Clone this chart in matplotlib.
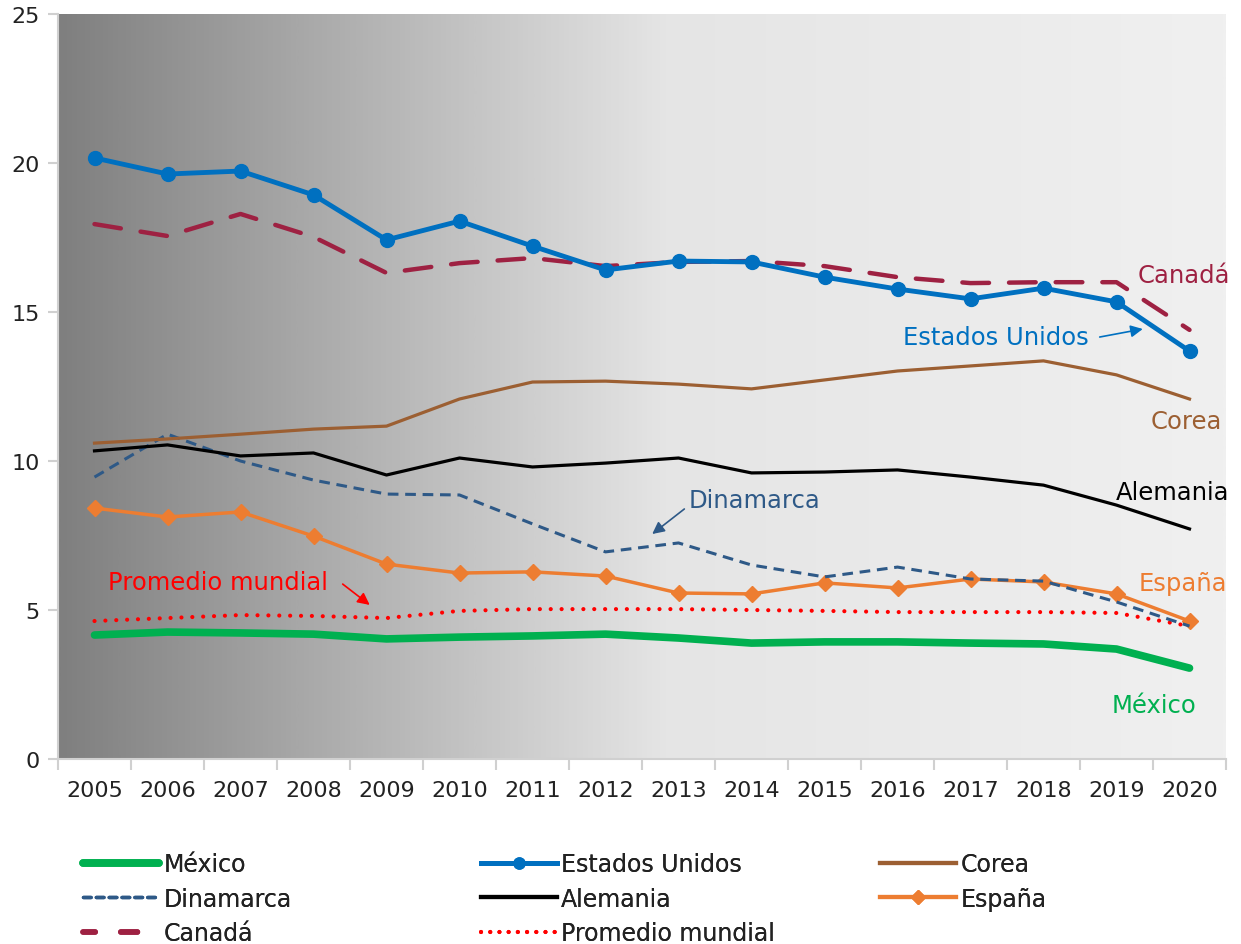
import numpy as np
import matplotlib
matplotlib.use("Agg")
import matplotlib.pyplot as plt
from matplotlib.colors import LinearSegmentedColormap
from matplotlib.lines import Line2D

plt.rcParams['font.family'] = ['DejaVu Sans']

years = [str(y) for y in range(2005, 2021)]
mexico = [4.16, 4.26, 4.23, 4.19, 4.03, 4.09, 4.13, 4.19, 4.06, 3.89, 3.93, 3.93, 3.89, 3.86, 3.69, 3.05]
eeuu = [20.17, 19.63, 19.73, 18.93, 17.42, 18.05, 17.21, 16.41, 16.71, 16.68, 16.17, 15.77, 15.44, 15.80, 15.34, 13.69]
corea = [10.60, 10.74, 10.90, 11.07, 11.17, 12.08, 12.65, 12.68, 12.58, 12.42, 12.72, 13.02, 13.19, 13.36, 12.89, 12.08]
dinamarca = [9.46, 10.90, 10.00, 9.36, 8.89, 8.86, 7.89, 6.95, 7.25, 6.51, 6.11, 6.44, 6.04, 5.97, 5.27, 4.46]
alemania = [10.34, 10.54, 10.17, 10.27, 9.53, 10.10, 9.80, 9.93, 10.10, 9.60, 9.63, 9.70, 9.46, 9.19, 8.52, 7.72]
espana = [8.42, 8.12, 8.29, 7.48, 6.54, 6.24, 6.28, 6.14, 5.57, 5.54, 5.91, 5.74, 6.04, 5.94, 5.54, 4.63]
canada = [17.95, 17.55, 18.29, 17.52, 16.31, 16.64, 16.81, 16.54, 16.68, 16.71, 16.54, 16.17, 15.97, 16.00, 16.00, 14.40]
promedio = [4.63, 4.73, 4.83, 4.80, 4.73, 4.97, 5.03, 5.03, 5.03, 5.00, 4.97, 4.93, 4.93, 4.93, 4.90, 4.46]
y_ticks = [0, 5, 10, 15, 20, 25]

C_MEX = '#00b050'
C_US = '#0070c0'
C_KOR = '#9c5f32'
C_DEN = '#2e5987'
C_GER = '#000000'
C_ESP = '#ed7d31'
C_CAN = '#9e2142'
C_AVG = '#ff0000'
C_TXT = '#222222'

W, H = 1241, 945
fig = plt.figure(figsize=(W/100, H/100), dpi=100)
ax = fig.add_axes([58/W, 1 - 760/H, (1226-58)/W, (760-15)/H])

x = np.arange(len(years))

# gradient background
cmap = LinearSegmentedColormap.from_list('bg', [(0, '#7f7f7f'), (0.52, '#e5e5e5'), (1.0, '#f0f0f0')])
grad = np.linspace(0, 1, 512).reshape(1, -1)
ax.imshow(grad, aspect='auto', cmap=cmap, extent=[-0.5, 15.5, 0, 25], zorder=0)

ax.plot(x, mexico, color=C_MEX, lw=5.5, solid_capstyle='round', solid_joinstyle='round', zorder=3)
ax.plot(x, promedio, color=C_AVG, lw=3, linestyle=(0, (0.01, 2.6)), dash_capstyle='round', zorder=3)
ax.plot(x, espana, color=C_ESP, lw=2.5, marker='D', ms=8, zorder=4)
ax.plot(x, dinamarca, color=C_DEN, lw=2.2, linestyle=(0, (3.5, 2.2)), zorder=4)
ax.plot(x, alemania, color=C_GER, lw=2.3, zorder=4)
ax.plot(x, corea, color=C_KOR, lw=2.3, zorder=4)
ax.plot(x, canada, color=C_CAN, lw=3.2, linestyle=(0, (6, 4.5)), dash_capstyle='round', zorder=5)
ax.plot(x, eeuu, color=C_US, lw=3.5, marker='o', ms=10, zorder=6)

ax.set_xlim(-0.5, 15.5)
ax.set_ylim(0, 25)
ax.set_yticks(y_ticks)
ax.set_xticks(x)
ax.set_xticklabels(years)
ax.set_xticks(np.arange(-0.5, 16, 1), minor=True)
ax.tick_params(axis='x', which='major', length=0, pad=15, labelsize=16, colors=C_TXT)
ax.tick_params(axis='x', which='minor', length=8, color='#d0d0d0', width=1.5)
ax.tick_params(axis='y', length=7, color='#d0d0d0', width=1.5, pad=6, labelsize=16, labelcolor=C_TXT)
for s in ['top', 'right']:
    ax.spines[s].set_visible(False)
for s in ['left', 'bottom']:
    ax.spines[s].set_color('#d0d0d0')
    ax.spines[s].set_linewidth(1.5)

fs = 17.5
ax.text(15.55, 16.24, 'Canadá', color=C_CAN, fontsize=fs, ha='right', va='center')
ax.text(11.07, 14.16, 'Estados Unidos', color=C_US, fontsize=fs, ha='left', va='center')
ax.annotate('', xy=(14.36, 14.43), xytext=(13.77, 14.16),
            arrowprops=dict(arrowstyle='-|>', color=C_US, lw=1.2, mutation_scale=18, shrinkA=0, shrinkB=0))
ax.text(15.45, 11.34, 'Corea', color=C_KOR, fontsize=fs, ha='right', va='center')
ax.text(15.55, 8.96, 'Alemania', color=C_GER, fontsize=fs, ha='right', va='center')
ax.text(9.04, 8.69, 'Dinamarca', color=C_DEN, fontsize=fs, ha='center', va='center')
ax.annotate('', xy=(7.64, 7.55), xytext=(8.08, 8.39),
            arrowprops=dict(arrowstyle='-|>', color=C_DEN, lw=1.2, mutation_scale=18, shrinkA=0, shrinkB=0))
ax.text(15.52, 5.9, 'España', color=C_ESP, fontsize=fs, ha='right', va='center')
ax.text(0.18, 5.95, 'Promedio mundial', color=C_AVG, fontsize=fs, ha='left', va='center')
ax.annotate('', xy=(3.77, 5.17), xytext=(3.4, 5.87),
            arrowprops=dict(arrowstyle='-|>', color=C_AVG, lw=1.2, mutation_scale=18, shrinkA=0, shrinkB=0))
ax.text(15.1, 1.81, 'México', color=C_MEX, fontsize=fs, ha='right', va='center')

cols = [
    ([Line2D([], [], color=C_MEX, lw=5.5, solid_capstyle='round'),
      Line2D([], [], color=C_DEN, lw=2.5, linestyle=(0, (2.2, 1.5)), dash_capstyle='round'),
      Line2D([], [], color=C_CAN, lw=4, linestyle=(0.8, (3, 4.6)), dash_capstyle='round')],
     ['México', 'Dinamarca', 'Canadá'], 83),
    ([Line2D([], [], color=C_US, lw=3.5, marker='o', ms=8),
      Line2D([], [], color=C_GER, lw=3),
      Line2D([], [], color=C_AVG, lw=3, linestyle=(0, (0.01, 2.2)), dash_capstyle='round')],
     ['Estados Unidos', 'Alemania', 'Promedio mundial'], 481),
    ([Line2D([], [], color=C_KOR, lw=3),
      Line2D([], [], color=C_ESP, lw=3, marker='D', ms=7)],
     ['Corea', 'España'], 880),
]
for hs, ls, xpix in cols:
    leg = fig.legend(hs, ls, ncol=1, loc='upper left', bbox_to_anchor=(xpix/W, 1 - 853/H),
                     frameon=False, fontsize=17, handlelength=3.2, handletextpad=0.2,
                     labelspacing=0.45, borderaxespad=0, borderpad=0, labelcolor=C_TXT)
    fig.add_artist(leg)

fig.savefig('out.png', dpi=100)
